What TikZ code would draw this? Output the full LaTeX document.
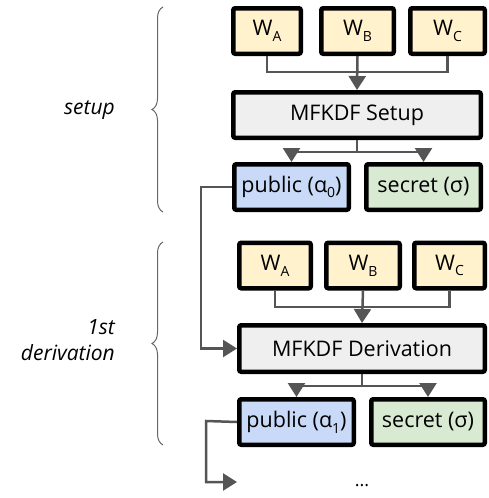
\documentclass[tikz,border=0pt]{standalone}
\usepackage{fontspec}
\setmainfont{Open Sans}
\usetikzlibrary{arrows.meta,decorations.pathreplacing}
\definecolor{wfill}{HTML}{FFF2CC}
\definecolor{pfill}{HTML}{C9DAF8}
\definecolor{sfill}{HTML}{D9EAD3}
\definecolor{gfill}{HTML}{EFEFEF}
\definecolor{conn}{HTML}{555555}
\definecolor{brc}{HTML}{666666}
\newcommand\mysub[1]{\raisebox{-0.5ex}{\fontsize{14}{14}\selectfont #1}}
\tikzset{
  box/.style={draw=black, line width=4.5pt, rounded corners=2pt, inner sep=0pt,
    minimum height=45.5pt, font=\fontsize{21.5}{24}\selectfont},
  wbox/.style={box, fill=wfill},
  pbox/.style={box, fill=pfill, minimum width=114.5pt},
  sbox/.style={box, fill=sfill, minimum width=114.5pt},
  gbox/.style={box, fill=gfill},
  conn/.style={draw=conn, line width=2.5pt},
  arr/.style={conn, -{Triangle[length=14pt,width=17pt]}},
  brace/.style={draw=brc, line width=1pt, decorate, decoration={brace, amplitude=11pt}},
  lbl/.style={font=\fontsize{21}{26}\selectfont\itshape, align=right, anchor=east, inner sep=0pt}
}
\begin{document}
\begin{tikzpicture}[x=1pt,y=-1pt]
\useasboundingbox (0,0) rectangle (488,498);
% setup
\node[wbox, minimum width=67.5pt] (wa1) at (267,31) {W\mysub{A}};
\node[wbox, minimum width=72.5pt] (wb1) at (357.5,31) {W\mysub{B}};
\node[wbox, minimum width=74.5pt] (wc1) at (447.5,31) {W\mysub{C}};
\node[gbox, minimum width=247.5pt] (setup) at (357,115) {MFKDF Setup};
\node[pbox] (pub0) at (291.5,187) {public (α\mysub{0})};
\node[sbox] (sec0) at (423.5,187) {secret (σ)};
% derivation
\node[wbox, minimum width=71.5pt] (wa2) at (275,265.5) {W\mysub{A}};
\node[wbox, minimum width=73.5pt] (wb2) at (363,265.5) {W\mysub{B}};
\node[wbox, minimum width=70.5pt] (wc2) at (449.5,265.5) {W\mysub{C}};
\node[gbox, minimum width=245.5pt, minimum height=46.5pt] (deriv) at (362,348.5) {MFKDF Derivation};
\node[pbox] (pub1) at (296.5,422) {public (α\mysub{1})};
\node[sbox, minimum width=113.5pt] (sec1) at (428,422) {secret (σ)};
\node[inner sep=0pt, font=\fontsize{18}{20}\selectfont] (dots) at (362,486) {...};
% junctions
\coordinate (j1) at (357.5,72);
\coordinate (j2) at (357,152);
\coordinate (j3) at (363,307);
\coordinate (j4) at (362,386);
\coordinate (c1) at (201,187);
\coordinate (c2) at (206,421);
\coordinate (e) at (237,482);
% connectors
\draw[conn] (wa1.south) |- (j1) -| (wc1.south);
\draw[arr] (wb1.south) -- (setup.north);
\draw[conn] (setup.south) -- (j2);
\draw[arr] (j2) -| (pub0.north);
\draw[arr] (j2) -| (sec0.north);
\draw[arr] (pub0.west) -- (c1) |- (deriv.west);
\draw[conn] (wa2.south) |- (j3) -| (wc2.south);
\draw[arr] (wb2.south) -- (deriv.north);
\draw[conn] (deriv.south) -- (j4);
\draw[arr] (j4) -| (pub1.north);
\draw[arr] (j4) -| (sec1.north);
\draw[arr] (pub1.west) -- (c2) |- (e);
% braces
\draw[brace] (163,212) -- (163,7);
\draw[brace] (163,445) -- (163,242);
\node[lbl] (l1) at (115,110) {setup};
\node[lbl] (l2) at (115,340) {1st\\derivation};
\end{tikzpicture}
\end{document}
